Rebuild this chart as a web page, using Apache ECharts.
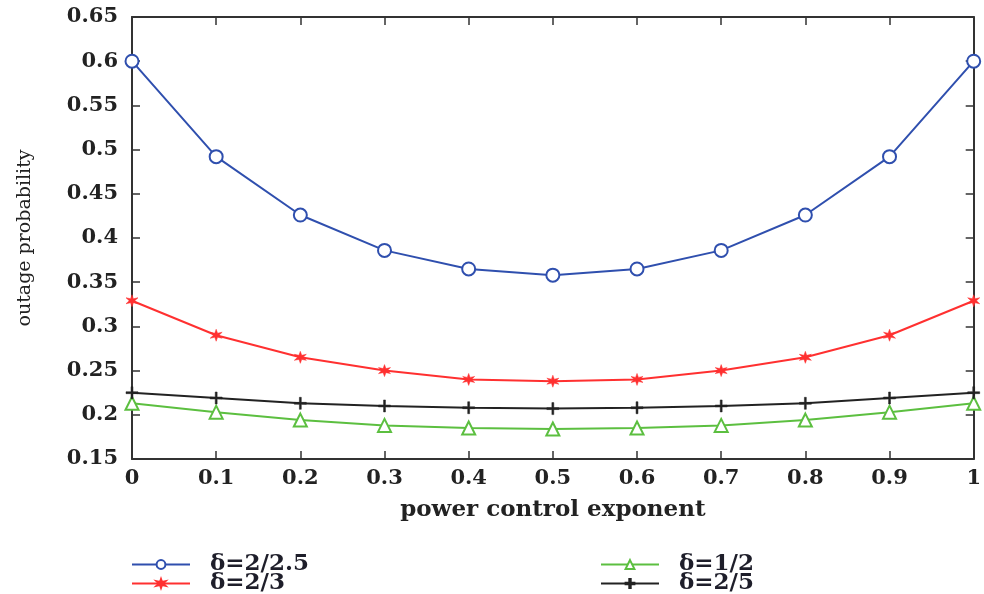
<!DOCTYPE html>
<html><head><meta charset="utf-8">
<script src="https://cdn.jsdelivr.net/npm/echarts@6/dist/echarts.min.js"></script>
<style>html,body{margin:0;padding:0;background:#fff}#c{width:984px;height:594px}</style>
</head><body><div id="c"></div>
<script>
const xValues = [0, 0.1, 0.2, 0.3, 0.4, 0.5, 0.6, 0.7, 0.8, 0.9, 1];
const seriesNames = ['δ=2/2.5', 'δ=2/3', 'δ=1/2', 'δ=2/5'];
const blueVals  = [0.600, 0.492, 0.426, 0.386, 0.365, 0.358, 0.365, 0.386, 0.426, 0.492, 0.600];
const redVals   = [0.329, 0.290, 0.265, 0.250, 0.240, 0.238, 0.240, 0.250, 0.265, 0.290, 0.329];
const greenVals = [0.213, 0.203, 0.194, 0.188, 0.185, 0.184, 0.185, 0.188, 0.194, 0.203, 0.213];
const blackVals = [0.225, 0.219, 0.213, 0.210, 0.208, 0.207, 0.208, 0.210, 0.213, 0.219, 0.225];

const pair = v => xValues.map((x, i) => [x, v[i]]);
const FONT = 'DejaVu Serif';
const axisColor = '#333';
const plusPath = 'path://M4.2,0H5.8V4.2H10V5.8H5.8V10H4.2V5.8H0V4.2H4.2Z';
const starPath = 'path://M5,0L6,3.3L9.3,2.5L7,5L9.3,7.5L6,6.7L5,10L4,6.7L0.7,7.5L3,5L0.7,2.5L4,3.3Z';

const chart = echarts.init(document.getElementById('c'));
const mkSeries = (name, data, color, symbol, size, hollow) => ({
  name, type: 'line', data: pair(data), xAxisIndex: 0, yAxisIndex: 0,
  symbol, symbolSize: size, showAllSymbol: true,
  lineStyle: { color, width: 2 },
  itemStyle: hollow ? { color: '#fff', borderColor: color, borderWidth: 2 } : { color, borderColor: color, borderWidth: 0.5 },
  emphasis: { disabled: true }, animation: false
});
const legendText = { fontFamily: FONT, fontSize: 23, fontWeight: 'bold', color: '#1e1e2a', lineHeight: 18, padding: [0, 0, 0, 15] };
const mkLegend = (name, left, top) => ({ left, top, orient: 'horizontal', itemWidth: 58, itemHeight: 11, padding: 0, data: [name], textStyle: legendText });
chart.setOption({
  animation: false,
  grid: { left: 132, right: 7, top: 17, bottom: 135 },
  legend: [
    mkLegend(seriesNames[0], 131, 553),
    mkLegend(seriesNames[1], 131, 572),
    mkLegend(seriesNames[2], 600, 553),
    mkLegend(seriesNames[3], 600, 572)
  ],
  xAxis: [
    { type: 'value', min: 0, max: 1, interval: 0.1, position: 'bottom',
      name: 'power control exponent', nameLocation: 'middle', nameGap: 40,
      nameTextStyle: { fontFamily: FONT, fontSize: 23, fontWeight: 'bold', color: '#222' },
      axisLine: { show: true, onZero: false, lineStyle: { color: axisColor, width: 2 } },
      axisTick: { show: true, inside: true, length: 8, lineStyle: { color: axisColor, width: 1.5 } },
      axisLabel: { fontFamily: FONT, fontSize: 21, fontWeight: 'bold', color: '#222', margin: 9,
                   formatter: v => String(Math.round(v * 10) / 10) },
      splitLine: { show: false } },
    { type: 'value', min: 0, max: 1, interval: 0.1, position: 'top',
      axisLine: { show: true, onZero: false, lineStyle: { color: axisColor, width: 2 } },
      axisTick: { show: true, inside: true, length: 8, lineStyle: { color: axisColor, width: 1.5 } },
      axisLabel: { show: false }, splitLine: { show: false } }
  ],
  yAxis: [
    { type: 'value', min: 0.15, max: 0.65, interval: 0.05, position: 'left',
      name: 'outage probability', nameLocation: 'middle', nameGap: 97, nameRotate: 90,
      nameTextStyle: { fontFamily: FONT, fontSize: 19, color: '#222' },
      axisLine: { show: true, onZero: false, lineStyle: { color: axisColor, width: 2 } },
      axisTick: { show: true, inside: true, length: 8, lineStyle: { color: axisColor, width: 1.5 } },
      axisLabel: { fontFamily: FONT, fontSize: 21, fontWeight: 'bold', color: '#222', margin: 14,
                   formatter: v => String(Math.round(v * 100) / 100) },
      splitLine: { show: false } },
    { type: 'value', min: 0.15, max: 0.65, interval: 0.05, position: 'right',
      axisLine: { show: true, onZero: false, lineStyle: { color: axisColor, width: 2 } },
      axisTick: { show: true, inside: true, length: 8, lineStyle: { color: axisColor, width: 1.5 } },
      axisLabel: { show: false }, splitLine: { show: false } }
  ],
  series: [
    mkSeries(seriesNames[0], blueVals, '#2f4fae', 'circle', 13, true),
    mkSeries(seriesNames[1], redVals, '#ff3030', starPath, 12, false),
    mkSeries(seriesNames[2], greenVals, '#5cbf40', 'triangle', 13, true),
    mkSeries(seriesNames[3], blackVals, '#222222', plusPath, 12, false)
  ]
});
</script></body></html>
